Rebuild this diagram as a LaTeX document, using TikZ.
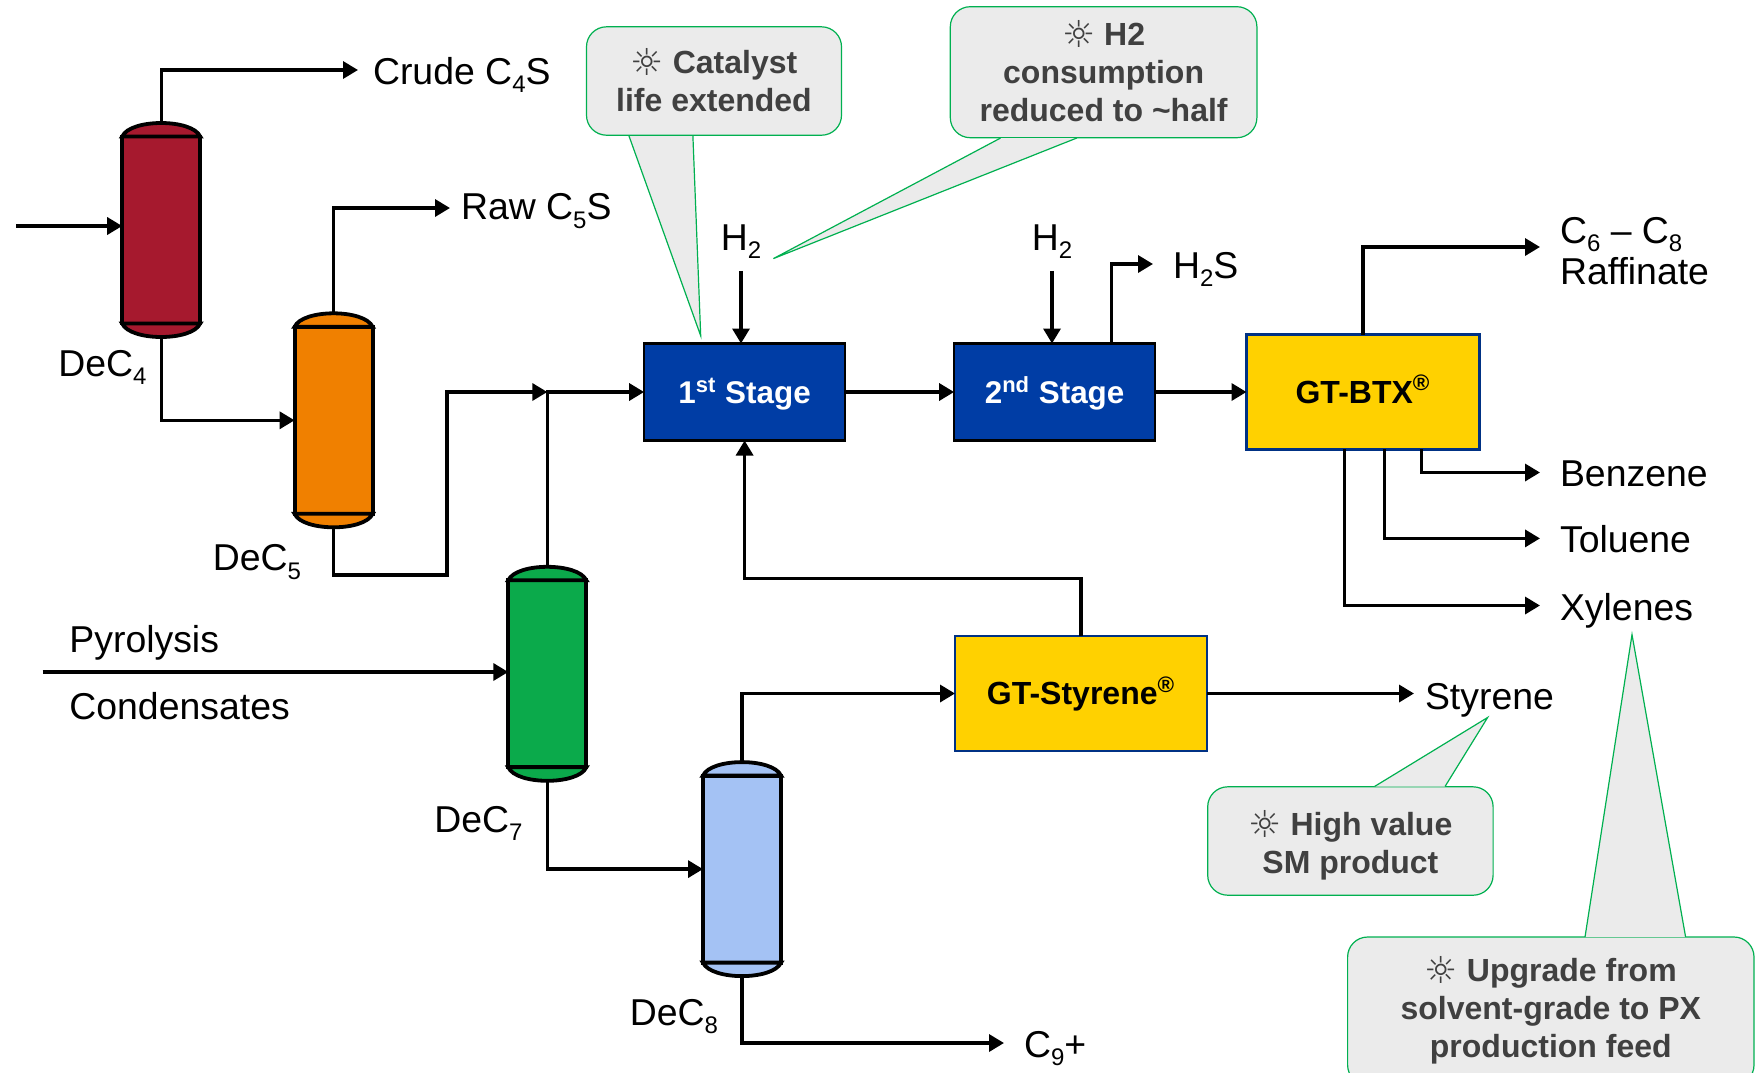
\documentclass[tikz,border=0pt]{standalone}
\usepackage{fontspec}
\setmainfont{Liberation Sans}
\newfontfamily\sunfont{DejaVu Sans}
\usetikzlibrary{shapes,arrows.meta}
\definecolor{dectred}{HTML}{A6192E}
\definecolor{decforange}{HTML}{F08000}
\definecolor{decsgreen}{HTML}{0BAA4B}
\definecolor{dceblue}{HTML}{A4C2F4}
\definecolor{stageblue}{HTML}{003DA5}
\definecolor{btxyellow}{HTML}{FFD100}
\definecolor{callgreen}{HTML}{00B050}
\definecolor{callgray}{HTML}{EBEBEB}
\definecolor{calltext}{HTML}{404040}
\tikzstyle{column} = [rectangle, draw, line width=1.9pt, minimum width=39pt,
    minimum height=93.5pt, inner sep=0pt, outer sep=0pt]
\tikzstyle{domecap} = [draw, line width=1.9pt]
\tikzstyle{stage} = [rectangle, draw, line width=1.2pt, fill=stageblue, text=white,
    font=\fontsize{15.7}{19}\selectfont\bfseries, text height=14pt, text depth=2.6pt,
    minimum width=100.5pt, minimum height=48.5pt, inner sep=0pt, outer sep=0pt]
\tikzstyle{unit} = [rectangle, draw=stageblue!80!black, line width=1.2pt, fill=btxyellow,
    font=\fontsize{16}{19}\selectfont\bfseries, text height=14pt, text depth=2.6pt,
    minimum height=57.5pt, inner sep=0pt, outer sep=0pt]
\tikzstyle{stream} = [anchor=west, font=\fontsize{18.7}{20.7}\selectfont, text height=14.5pt,
    text depth=0pt, inner ysep=0pt, inner xsep=5.5pt, outer sep=0pt]
\tikzstyle{tag} = [font=\fontsize{18.7}{20.7}\selectfont, text height=13.5pt, text depth=0pt,
    inner sep=0pt]
\tikzstyle{callout} = [rectangle, rounded corners=10pt, draw=callgreen, line width=.6pt,
    fill=callgray, text=calltext, font=\fontsize{16}{19}\selectfont\bfseries,
    align=center, inner sep=0pt]
\tikzstyle{tail} = [draw=callgreen, line width=.6pt, fill=callgray]
\tikzstyle{line} = [draw, line width=1.7pt, -{Triangle[length=7.5pt,width=8.5pt]}]
\newcommand{\lowidx}[1]{\raisebox{-.22em}{\fontsize{12}{12}\selectfont #1}}
\newcommand{\sun}{\raisebox{-1pt}[0pt][0pt]{\sunfont\mdseries\fontsize{18.5}{19}\selectfont\symbol{"263C}}}
% column body, both domes and the two points where the pipes leave
\newcommand{\fraccolumn}[3]{
    \node [column, fill=#3] (#1) at (#2) {};
    \draw [domecap, fill=#3] (#1.north west) .. controls +(8,-18) and +(-8,-18) .. (#1.north east) -- cycle;
    \draw [domecap, fill=#3] (#1.south west) .. controls +(8,18) and +(-8,18) .. (#1.south east) -- cycle;
    \coordinate [yshift=6.5pt] (#1top) at (#1.north);
    \coordinate [yshift=-6.5pt] (#1bot) at (#1.south);
}
\begin{document}
\begin{tikzpicture}[x=.5pt, y=-.5pt]
    \useasboundingbox (0,0) rectangle (1755,1072);
    % Place nodes

    \fraccolumn{dec4}{161.2,230}{dectred}
    \fraccolumn{dec5}{333.6,420.3}{decforange}
    \fraccolumn{dec7}{547.3,673.8}{decsgreen}
    \fraccolumn{dec8}{742,869.1}{dceblue}

    \node [tag] (dec4label) at (102.4,363) {DeC\lowidx{4}};
    \node [tag] (dec5label) at (257,557.4) {DeC\lowidx{5}};
    \node [tag] (dec7label) at (478.5,819) {DeC\lowidx{7}};
    \node [tag] (dec8label) at (674,1012) {DeC\lowidx{8}};

    \node [stage] (stage1) at (744.6,392) {1\textsuperscript{st} Stage};
    \node [stage, right of=stage1, node distance=155pt] (stage2) {2\textsuperscript{nd} Stage};
    \node [unit, minimum width=116.5pt, right of=stage2, node distance=154.2pt] (btx) {GT-BTX\textsuperscript{®}};
    \node [unit, minimum width=126pt] (styreneunit) at (1081,693.5) {GT-Styrene\textsuperscript{®}};

    \node [tag, inner ysep=10pt] (h2first) at (741,237) {H\lowidx{2}};
    \node [tag, inner ysep=10pt] (h2second) at (1052,237) {H\lowidx{2}};

    \node [stream, inner xsep=7.5pt] (crude) at (358,70) {Crude C\lowidx{4}S};
    \node [stream, text height=11.8pt] (raw) at (450,208) {Raw C\lowidx{5}S};
    \node [stream, inner xsep=10pt] (h2s) at (1153,264) {H\lowidx{2}S};
    \node [stream, inner xsep=10pt, align=left, text height=37.4pt] (raffinate) at (1540,247) {C\lowidx{6} -- C\lowidx{8}\\Raffinate};
    \node [stream, inner xsep=10pt, text height=13.5pt] (benzene) at (1540,472.5) {Benzene};
    \node [stream, inner xsep=10pt] (toluene) at (1540,538.4) {Toluene};
    \node [stream, inner xsep=10pt] (xylenes) at (1540,605.5) {Xylenes};
    \node [stream] (styrene) at (1414,695) {Styrene};
    \node [stream, inner xsep=10pt] (c9) at (1004,1043) {C\lowidx{9}+};
    \node [stream, inner xsep=0pt] (pyrolysis) at (69.4,638) {Pyrolysis};
    \node [stream, inner xsep=0pt] (condensates) at (69.4,705) {Condensates};

    \coordinate (feed) at (16,226);
    \coordinate (pyrofeed) at (42.5,672);
    \coordinate (mixup) at (447,575);
    \coordinate (junction) at (dec7.north |- stage1.west);
    \coordinate (recycle) at (744.6,578.7);
    \coordinate (stage2out) at (1111.5,343);
    \coordinate (benzeneout) at (1421.5,449);
    \coordinate (tolueneout) at (1384.6,449);
    \coordinate (xylenesout) at (1344.3,449);

    % Draw edges
    \path [line] (feed) -- (feed -| dec4.west);
    \path [line] (dec4top) |- (crude.west);
    \path [line] (dec4bot) |- (dec5.west);
    \path [line] (dec5top) |- (raw.west);
    \path [line] (dec5bot) |- (mixup) |- (junction);
    \path [line] (pyrofeed) -- (pyrofeed -| dec7.west);
    \path [line] (dec7top) |- (stage1.west);
    \path [line] (dec7bot) |- (dec8.west);
    \path [line] (dec8top) |- (styreneunit.west);
    \path [line] (dec8bot) |- (c9.west);
    \path [line] (h2first.south) -- (h2first.south |- stage1.north);
    \path [line] (h2second.south) -- (h2second.south |- stage2.north);
    \path [line] (stage2out) |- (h2s.west);
    \path [line] (stage1) -- (stage2);
    \path [line] (stage2) -- (btx);
    \path [line] (btx.north) |- (raffinate.west);
    \path [line] (benzeneout) |- (benzene.west);
    \path [line] (tolueneout) |- (toluene.west);
    \path [line] (xylenesout) |- (xylenes.west);
    \path [line] (styreneunit.east) -- (styreneunit.east -| styrene.west);
    \path [line] (styreneunit.north) |- (recycle) -- (stage1.south);

    % Callouts, the tail goes over the box border
    \node [callout, minimum width=127.5pt, minimum height=54.2pt] (catalyst) at (714,81)
        {\sun{} Catalyst\\life extended};
    \node [callout, minimum width=153.3pt, minimum height=65.5pt] (h2half) at (1103.6,72.2)
        {\sun{} H2\\consumption\\reduced to \textasciitilde half};
    \node [callout, minimum width=142.7pt, minimum height=54.2pt] (smvalue) at (1350.4,841)
        {\rule{0pt}{17pt}\sun{} High value\\SM product};
    \node [callout, minimum width=203.2pt, minimum height=74pt] (upgrade) at (1550.8,1011)
        {\sun{} Upgrade from\\solvent-grade to PX\\production feed};

    \coordinate (catalysttip) at (700.7,335.8);
    \coordinate (h2halftip) at (773.4,258.6);
    \coordinate (smvaluetip) at (1487.6,717.5);
    \coordinate (upgradetip) at (1632,634.6);
    \path [tail] (629,136) -- (catalysttip) -- (692.9,136);
    \path [tail] (1000.6,138) -- (h2halftip) -- (1076.8,138);
    \path [tail] (1374.5,786.5) -- (smvaluetip) -- (1445,786.5);
    \path [tail] (1585,937) -- (upgradetip) -- (1685.6,937);
\end{tikzpicture}
\end{document}
